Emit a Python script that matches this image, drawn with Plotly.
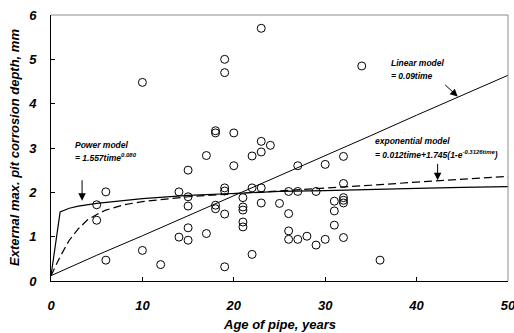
import plotly.graph_objects as go

# Observed data: age of pipe (years) and external max pit depth (mm)
age = [5, 5, 6, 6, 10, 10, 12,
       14, 14,
       15, 15, 15, 15, 15,
       17, 17,
       18, 18, 18, 18,
       19, 19, 19, 19, 19, 19,
       20, 20,
       21, 21, 21, 21, 21,
       22, 22, 22,
       23, 23, 23, 23, 23,
       24, 25,
       26, 26, 26, 26,
       27, 27, 27,
       28, 29, 29,
       30, 30,
       31, 31, 31,
       32, 32, 32, 32, 32, 32,
       34, 36]
depth = [1.72, 1.37, 2.01, 0.47, 4.48, 0.69, 0.37,
         2.01, 0.99,
         2.50, 1.90, 1.69, 1.20, 0.92,
         2.83, 1.07,
         3.39, 3.34, 1.71, 1.63,
         5.00, 4.70, 2.10, 2.03, 1.51, 0.32,
         3.34, 2.60,
         1.88, 1.67, 1.60, 1.33, 1.22,
         2.82, 2.10, 0.60,
         5.70, 3.15, 2.91, 2.10, 1.76,
         3.06, 1.75,
         2.02, 1.52, 1.13, 0.94,
         2.60, 2.02, 0.94,
         1.01, 2.02, 0.81,
         2.63, 0.94,
         1.80, 1.58, 1.26,
         2.81, 2.20, 1.88, 1.82, 1.76, 0.98,
         4.85, 0.47]

# Model curves
lin_t = [0, 5, 10, 15, 20, 25, 30, 35, 40, 45, 50]
lin_y = [0.12, 0.58, 1.02, 1.47, 1.93, 2.38, 2.83, 3.28, 3.74, 4.19, 4.64]

pow_t = [0, 1, 2, 3, 5, 7, 10, 15, 20, 25, 30, 35, 40, 45, 50]
pow_y = [0.12, 1.56, 1.64, 1.69, 1.75, 1.80, 1.86, 1.93, 1.98, 2.02, 2.04, 2.07, 2.09, 2.11, 2.13]

exp_t = [0, 1, 2, 3, 4, 5, 6, 8, 10, 15, 20, 25, 30, 35, 40, 45, 50]
exp_y = [0.12, 0.55, 0.92, 1.18, 1.38, 1.50, 1.60, 1.72, 1.79, 1.90, 1.97, 2.03, 2.10, 2.16, 2.23, 2.30, 2.36]

x_ticks = [0, 10, 20, 30, 40, 50]
y_ticks = [0, 1, 2, 3, 4, 5, 6]

FONT = "Arial, Liberation Sans, sans-serif"

fig = go.Figure()
fig.add_trace(go.Scatter(x=lin_t, y=lin_y, mode="lines",
                         line=dict(color="black", width=1), showlegend=False))
fig.add_trace(go.Scatter(x=pow_t, y=pow_y, mode="lines",
                         line=dict(color="black", width=1.2), showlegend=False))
fig.add_trace(go.Scatter(x=exp_t, y=exp_y, mode="lines",
                         line=dict(color="black", width=1.2, dash="8px,4px"), showlegend=False))
fig.add_trace(go.Scatter(x=age, y=depth, mode="markers",
                         marker=dict(symbol="circle-open", size=8, color="black",
                                     line=dict(width=1, color="black")),
                         showlegend=False))

tickfont = dict(family=FONT, size=13, color="black", weight="bold", style="italic")
txtfont = dict(family=FONT, size=8.5, color="black", weight="bold", style="italic")

fig.update_layout(
    width=514, height=333,
    margin=dict(l=51, r=6, t=15, b=52, autoexpand=False),
    paper_bgcolor="white", plot_bgcolor="white",
    xaxis=dict(range=[0, 50], tickvals=x_ticks, ticks="inside", ticklen=4,
               tickcolor="black", showline=True, linecolor="black", linewidth=1,
               showgrid=False, zeroline=False, tickfont=tickfont,
               ticklabelstandoff=12, automargin=False, ticklabeloverflow="allow"),
    yaxis=dict(range=[0, 6], tickvals=y_ticks, ticks="inside", ticklen=4,
               tickcolor="black", showline=True, linecolor="black", linewidth=1,
               showgrid=False, zeroline=False, tickfont=tickfont,
               ticklabelstandoff=11, automargin=False, ticklabeloverflow="allow"),
    shapes=[
        dict(type="line", xref="paper", yref="paper", x0=0, x1=1, y0=1, y1=1,
             line=dict(color="#8c8c8c", width=1)),
        dict(type="line", xref="paper", yref="paper", x0=1, x1=1, y0=0, y1=1,
             line=dict(color="#8c8c8c", width=1)),
    ],
)

titlefont = dict(family=FONT, size=13, color="black", weight="bold", style="italic")
anns = [
    dict(text="Age of pipe, years", xref="paper", yref="paper", x=0.5, y=0,
         yshift=-43, xanchor="center", yanchor="middle", showarrow=False, font=titlefont),
    dict(text="External max. pit corrosion depth, mm", xref="paper", yref="paper",
         x=0, y=0.5, xshift=-37, xanchor="center", yanchor="middle", textangle=-90,
         showarrow=False, font=titlefont),
    # text labels
    dict(text="Power model", x=2.4, y=3.07, xanchor="left", yanchor="middle",
         showarrow=False, font=txtfont),
    dict(text="= 1.557time<sup>0.080</sup>", x=2.4, y=2.78, xanchor="left", yanchor="middle",
         showarrow=False, font=txtfont),
    dict(text="Linear model", x=37.0, y=4.92, xanchor="left", yanchor="middle",
         showarrow=False, font=txtfont),
    dict(text="= 0.09time", x=37.0, y=4.63, xanchor="left", yanchor="middle",
         showarrow=False, font=txtfont),
    dict(text="exponential model", x=35.2, y=3.15, xanchor="left", yanchor="middle",
         showarrow=False, font=txtfont),
    dict(text="= 0.012time+1.745(1-e<sup>-0.3126time</sup>)", x=35.2, y=2.85,
         xanchor="left", yanchor="middle", showarrow=False, font=txtfont),
    # arrows
    dict(text="", x=3.4, y=1.81, ax=0, ay=-22, showarrow=True, arrowhead=2,
         arrowsize=1.5, arrowwidth=1, arrowcolor="black"),
    dict(text="", x=44.5, y=4.16, ax=-14, ay=-13, showarrow=True, arrowhead=2,
         arrowsize=1.5, arrowwidth=1, arrowcolor="black"),
    dict(text="", x=42.3, y=2.27, ax=0, ay=-18, showarrow=True, arrowhead=2,
         arrowsize=1.5, arrowwidth=1, arrowcolor="black"),
]
fig.update_layout(annotations=anns)

fig.write_html("out.html", config={"displayModeBar": False},
               post_script="document.body.style.margin='0';document.body.style.padding='0';")
